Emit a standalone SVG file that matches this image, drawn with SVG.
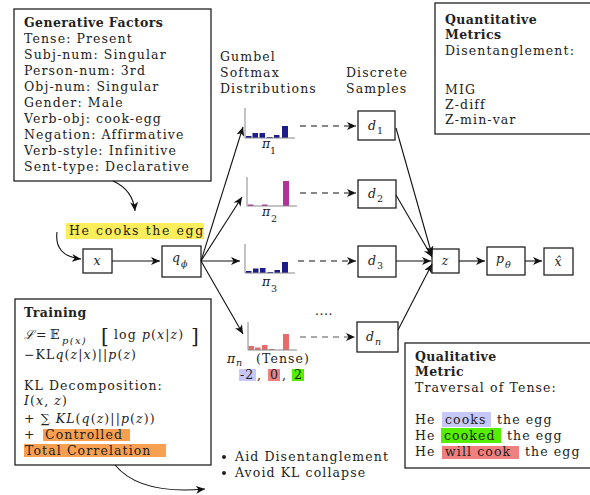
<svg xmlns="http://www.w3.org/2000/svg" width="590" height="495" viewBox="0 0 590 495">
<defs>
<style>
.box{fill:#fff;stroke:#222;stroke-width:1.3}
.t{font-family:"DejaVu Serif","Liberation Serif",serif;font-size:12.5px;letter-spacing:1.1px;fill:#222}
.b{font-weight:bold;letter-spacing:0.4px}
.i{font-style:italic}
.s{font-size:9.5px;letter-spacing:0}
.ln{stroke:#111;stroke-width:1.1;fill:none}
.dash{stroke-dasharray:6 5}
.ax{stroke:#888;stroke-width:1;fill:none}
.nv{fill:#1c1c8a}
.mg{fill:#b3329a}
.sm{fill:#e86a6a}
</style>
<marker id="ah" markerWidth="10" markerHeight="8" refX="9" refY="4" orient="auto" markerUnits="userSpaceOnUse">
<path d="M0,0 L9,4 L0,8 L2.5,4 z" fill="#111"/>
</marker>
</defs>
<rect width="590" height="495" fill="#fff"/>

<g id="generative-factors">
<rect class="box" x="14" y="9" width="197" height="172"/>
<text class="t b" x="24" y="27">Generative Factors</text>
<text class="t" x="24" y="43">Tense: Present</text>
<text class="t" x="24" y="59">Subj-num: Singular</text>
<text class="t" x="24" y="75">Person-num: 3rd</text>
<text class="t" x="24" y="91">Obj-num: Singular</text>
<text class="t" x="24" y="107">Gender: Male</text>
<text class="t" x="24" y="123">Verb-obj: cook-egg</text>
<text class="t" x="24" y="139">Negation: Affirmative</text>
<text class="t" x="24" y="155">Verb-style: Infinitive</text>
<text class="t" x="24" y="171">Sent-type: Declarative</text>
</g>

<g id="input-sentence">
<rect x="66" y="223" width="138" height="16" fill="#fbee5a"/>
<text class="t" x="69" y="235" style="letter-spacing:1.6px">He cooks the egg</text>
</g>

<g id="node-x">
<rect class="box" x="83" y="249" width="29" height="24"/>
<text class="t i" x="97.5" y="265" text-anchor="middle">x</text>
</g>

<g id="node-qphi">
<rect class="box" x="162" y="246" width="39" height="31"/>
<text class="t i" x="172" y="262">q</text>
<text class="t i s" x="181" y="267">ϕ</text>
</g>

<g id="labels-top">
<text class="t" x="220" y="61">Gumbel</text>
<text class="t" x="220" y="77">Softmax</text>
<text class="t" x="220" y="93">Distributions</text>
<text class="t" x="346" y="77">Discrete</text>
<text class="t" x="346" y="93">Samples</text>
</g>

<g id="dist-pi1">
<rect class="nv" x="246" y="136" width="5.5" height="2"/>
<rect class="nv" x="252.5" y="133" width="5.5" height="5"/>
<rect class="nv" x="259.5" y="133" width="5.5" height="5"/>
<rect class="nv" x="267" y="137" width="5.5" height="1"/>
<rect class="nv" x="274" y="135" width="5.5" height="3"/>
<rect class="nv" x="282" y="126" width="6" height="12"/>
<path class="ax" d="M245,108 V138 H295"/>
<text class="t i" x="262" y="148">π</text><text class="t s" x="270" y="154">1</text>
</g>

<g id="dist-pi2">
<rect class="mg" x="248" y="204.5" width="5.5" height="1.5"/>
<rect class="mg" x="262" y="204.5" width="5.5" height="1.5"/>
<rect class="mg" x="283" y="181" width="6" height="25"/>
<path class="ax" d="M247,177 V206 H297"/>
<text class="t i" x="262" y="216">π</text><text class="t s" x="271" y="222">2</text>
</g>

<g id="dist-pi3">
<rect class="nv" x="246" y="271" width="5.5" height="2"/>
<rect class="nv" x="253" y="268.5" width="5.5" height="4.5"/>
<rect class="nv" x="260" y="268" width="5.5" height="5"/>
<rect class="nv" x="267.5" y="272" width="5.5" height="1"/>
<rect class="nv" x="274.5" y="270" width="5.5" height="3"/>
<rect class="nv" x="282" y="262" width="6" height="11"/>
<path class="ax" d="M245,244 V273 H295"/>
<text class="t i" x="262" y="286">π</text><text class="t s" x="271" y="292">3</text>
</g>

<g id="dist-pin">
<rect class="sm" x="248.5" y="346" width="5.5" height="4"/>
<rect class="sm" x="255" y="347.5" width="5.5" height="2.5"/>
<rect class="sm" x="262" y="345" width="5.5" height="5"/>
<rect class="sm" x="269" y="349" width="5.5" height="1"/>
<rect class="sm" x="283" y="334" width="6" height="16"/>
<path class="ax" d="M248,322 V350 H297"/>
<text class="t i" x="227" y="363">π</text><text class="t i s" x="236" y="366">n</text>
<text class="t" x="256" y="363">(Tense)</text>
<rect x="239" y="369" width="17" height="12" fill="#c8c8f8"/>
<rect x="268" y="369" width="12" height="12" fill="#f08080"/>
<rect x="292" y="369" width="12" height="12" fill="#55ee00"/>
<text class="t" x="240" y="379">-2</text>
<text class="t" x="257" y="379">,</text>
<text class="t" x="270" y="379">0</text>
<text class="t" x="282" y="379">,</text>
<text class="t" x="294" y="379">2</text>
</g>

<g id="ellipsis">
<text class="t" x="315" y="315" style="letter-spacing:0.5px">....</text>
</g>

<g id="node-d1">
<rect class="box" x="358" y="111" width="37" height="29"/>
<text class="t i" x="368" y="130">d</text><text class="t s" x="377" y="134">1</text>
</g>
<g id="node-d2">
<rect class="box" x="358" y="180" width="38" height="28"/>
<text class="t i" x="368" y="198">d</text><text class="t s" x="377" y="202">2</text>
</g>
<g id="node-d3">
<rect class="box" x="358" y="246" width="38" height="31"/>
<text class="t i" x="368" y="265">d</text><text class="t s" x="377" y="269">3</text>
</g>
<g id="node-dn">
<rect class="box" x="357" y="322" width="41" height="30"/>
<text class="t i" x="366" y="341">d</text><text class="t i s" x="375" y="345">n</text>
</g>

<g id="node-z">
<rect class="box" x="432" y="249" width="27" height="24"/>
<text class="t i" x="445.5" y="265" text-anchor="middle">z</text>
</g>
<g id="node-ptheta">
<rect class="box" x="487" y="247" width="38" height="28"/>
<text class="t i" x="496" y="263">p</text><text class="t i s" x="505" y="268">θ</text>
</g>
<g id="node-xhat">
<rect class="box" x="544" y="248" width="29" height="27"/>
<text class="t i" x="558.5" y="266" text-anchor="middle">x̂</text>
</g>

<g id="quantitative-metrics">
<rect class="box" x="435" y="3" width="160" height="131"/>
<text class="t b" x="445" y="24">Quantitative</text>
<text class="t b" x="445" y="39">Metrics</text>
<text class="t" x="445" y="55">Disentanglement:</text>
<text class="t" x="445" y="94">MIG</text>
<text class="t" x="445" y="109">Z-diff</text>
<text class="t" x="445" y="124">Z-min-var</text>
</g>

<g id="training">
<rect class="box" x="15" y="299" width="196" height="166"/>
<text class="t b" x="24" y="317">Training</text>
<text class="t" x="24" y="339"><tspan class="i">ℒ</tspan><tspan x="36">=</tspan><tspan x="50">𝔼</tspan></text>
<text class="t i" x="62" y="344" style="font-size:10px;letter-spacing:1.3px">p(x)</text>
<text class="t" x="101" y="343" style="font-size:20px;letter-spacing:0">[</text>
<text class="t" x="114" y="339">log <tspan class="i">p</tspan>(<tspan class="i">x</tspan>|<tspan class="i">z</tspan>)</text>
<text class="t" x="191" y="343" style="font-size:20px;letter-spacing:0">]</text>
<text class="t" x="24" y="359">−KL<tspan class="i">q</tspan>(<tspan class="i">z</tspan>|<tspan class="i">x</tspan>)||<tspan class="i">p</tspan>(<tspan class="i">z</tspan>)</text>
<text class="t" x="24" y="390">KL Decomposition:</text>
<text class="t" x="24" y="405"><tspan class="i">I</tspan>(<tspan class="i">x</tspan>, <tspan class="i">z</tspan>)</text>
<text class="t" x="24" y="423">+ ∑ <tspan class="i">KL</tspan>(<tspan class="i">q</tspan>(<tspan class="i">z</tspan>)||<tspan class="i">p</tspan>(<tspan class="i">z</tspan>))</text>
<rect x="43" y="429" width="87" height="12" fill="#f8a052"/>
<rect x="24" y="444" width="142" height="13" fill="#f8a052"/>
<text class="t" x="24" y="439">+ <tspan x="45">Controlled</tspan></text>
<text class="t" x="25" y="455">Total Correlation</text>
</g>

<g id="bullets">
<circle cx="224" cy="457" r="2" fill="#222"/>
<circle cx="224" cy="473" r="2" fill="#222"/>
<text class="t" x="235" y="461">Aid Disentanglement</text>
<text class="t" x="235" y="477">Avoid KL collapse</text>
</g>

<g id="qualitative-metric">
<rect class="box" x="405" y="343" width="190" height="125"/>
<text class="t b" x="415" y="361">Qualitative</text>
<text class="t b" x="415" y="376">Metric</text>
<text class="t" x="415" y="392">Traversal of Tense:</text>
<rect x="442" y="412" width="49" height="15" fill="#c8c8f8"/>
<rect x="441" y="428" width="60" height="15" fill="#55ee00"/>
<rect x="442" y="446" width="77" height="13" fill="#f08080"/>
<text class="t" x="415" y="424">He <tspan x="445">cooks</tspan><tspan x="497">the egg</tspan></text>
<text class="t" x="415" y="440">He <tspan x="444">cooked</tspan><tspan x="507">the egg</tspan></text>
<text class="t" x="415" y="456">He <tspan x="445">will cook</tspan><tspan x="525">the egg</tspan></text>
</g>

<g id="connectors">
<path class="ln" d="M113,181 Q133,190 135,211" marker-end="url(#ah)"/>
<path class="ln" d="M57,232 Q54,256 81,259" marker-end="url(#ah)"/>
<path class="ln" d="M112,261 H160" marker-end="url(#ah)"/>
<path class="ln" d="M201,261 L243,127" marker-end="url(#ah)"/>
<path class="ln" d="M201,261 L242,197" marker-end="url(#ah)"/>
<path class="ln" d="M201,261 H240" marker-end="url(#ah)"/>
<path class="ln" d="M201,261 L243,334" marker-end="url(#ah)"/>
<path class="ln dash" d="M300,126 H356" marker-end="url(#ah)"/>
<path class="ln dash" d="M300,193 H356" marker-end="url(#ah)"/>
<path class="ln dash" d="M298,261 H356" marker-end="url(#ah)"/>
<path class="ln dash" d="M300,337 H355" marker-end="url(#ah)" style="stroke:#555"/>
<path class="ln" d="M396,128 L432,255" marker-end="url(#ah)"/>
<path class="ln" d="M396,195 L432,257" marker-end="url(#ah)"/>
<path class="ln" d="M396,261 H431" marker-end="url(#ah)"/>
<path class="ln" d="M398,330 L432,264" marker-end="url(#ah)"/>
<path class="ln" d="M459,261 H485" marker-end="url(#ah)"/>
<path class="ln" d="M525,261 H542" marker-end="url(#ah)"/>
<path class="ln" d="M115,465 Q140,495 205,489" marker-end="url(#ah)"/>
</g>
</svg>
